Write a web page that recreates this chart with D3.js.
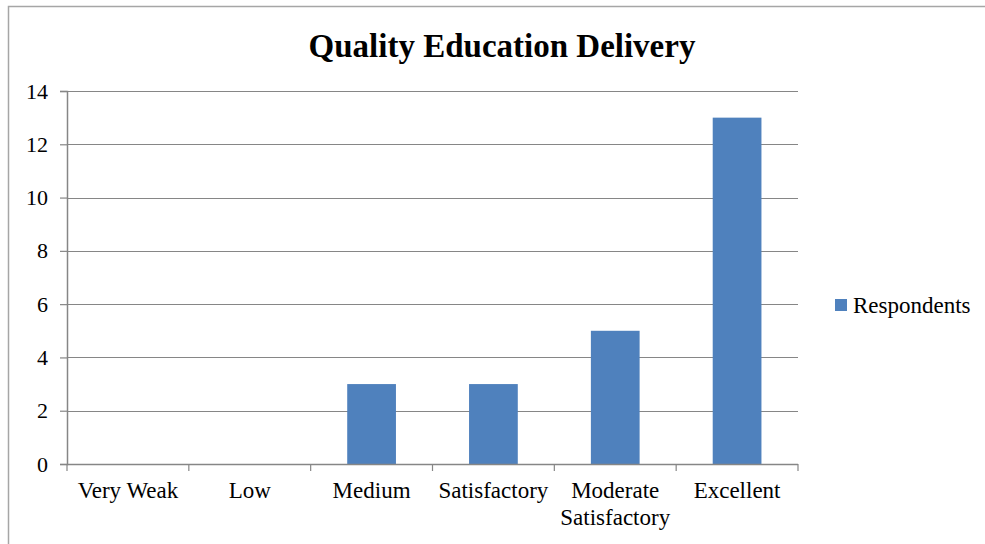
<!DOCTYPE html>
<html lang="en">
<head>
<meta charset="UTF-8">
<title>Quality Education Delivery</title>
<script src="https://d3js.org/d3.v7.min.js"></script>
<style>
  body { margin: 0; background: #fff; }
</style>
</head>
<body>
<script>
// data
var categories = ["Very Weak", "Low", "Medium", "Satisfactory", "Moderate Satisfactory", "Excellent"];
var respondents = [0, 0, 3, 3, 5, 13];
var yTicks = [0, 2, 4, 6, 8, 10, 12, 14];
var seriesName = "Respondents";

var width = 985, height = 544;
var plotL = 67, plotR = 798, plotT = 91, plotB = 464;
var barColor = "#4F81BD", gridColor = "#868686";
var serif = "'Liberation Serif', 'Times New Roman', serif";

var svg = d3.select("body").append("svg")
    .attr("width", width)
    .attr("height", height);

// outer frame (continues past right/bottom edge)
svg.append("rect")
    .attr("x", 8.5).attr("y", 6.5)
    .attr("width", 1000).attr("height", 600)
    .attr("fill", "none")
    .attr("stroke", "#a6a6a6")
    .attr("stroke-width", 1.5);

var x = d3.scaleBand().domain(categories).range([plotL, plotR]).padding(0);
var y = d3.scaleLinear().domain([0, 14]).range([plotB, plotT]);

// gridlines
svg.append("g").selectAll("line")
    .data(yTicks.filter(function (d) { return d > 0; }))
    .enter().append("line")
    .attr("x1", plotL).attr("x2", plotR)
    .attr("y1", function (d) { return Math.round(y(d)) + 0.5; })
    .attr("y2", function (d) { return Math.round(y(d)) + 0.5; })
    .attr("stroke", gridColor).attr("stroke-width", 1.2);

// bars
var barW = x.bandwidth() * 0.4;
svg.append("g").selectAll("rect")
    .data(categories)
    .enter().append("rect")
    .attr("x", function (d) { return x(d) + (x.bandwidth() - barW) / 2; })
    .attr("y", function (d, i) { return y(respondents[i]); })
    .attr("width", barW)
    .attr("height", function (d, i) { return y(0) - y(respondents[i]); })
    .attr("fill", barColor);

// y axis
var yAxis = svg.append("g")
    .attr("transform", "translate(" + plotL + ",0)")
    .call(d3.axisLeft(y).tickValues(yTicks).tickSize(7).tickPadding(12));
yAxis.select(".domain").attr("stroke", gridColor).attr("stroke-width", 1.5);
yAxis.selectAll(".tick line").attr("stroke", gridColor).attr("stroke-width", 1.2);
yAxis.selectAll("text")
    .style("font-family", serif)
    .style("font-size", "22px")
    .attr("fill", "#000");

// x axis
var xAxis = svg.append("g")
    .attr("transform", "translate(0," + plotB + ")");
xAxis.append("line")
    .attr("x1", plotL).attr("x2", plotR)
    .attr("y1", 0.5).attr("y2", 0.5)
    .attr("stroke", gridColor).attr("stroke-width", 1.5);
var bounds = categories.map(function (d) { return x(d); }).concat([plotR]);
xAxis.selectAll(".tk").data(bounds).enter().append("line")
    .attr("x1", function (d) { return d; }).attr("x2", function (d) { return d; })
    .attr("y1", 0).attr("y2", 7)
    .attr("stroke", gridColor).attr("stroke-width", 1.2);

var xl = xAxis.selectAll(".lbl").data(categories).enter().append("text")
    .attr("text-anchor", "middle")
    .style("font-family", serif)
    .style("font-size", "23px")
    .attr("x", function (d) { return x(d) + x.bandwidth() / 2; })
    .attr("y", 34);
xl.each(function (d) {
    var t = d3.select(this);
    var words = d === "Moderate Satisfactory" ? ["Moderate", "Satisfactory"] : [d];
    words.forEach(function (w, i) {
        t.append("tspan")
            .attr("x", x(d) + x.bandwidth() / 2)
            .attr("dy", i === 0 ? 0 : 27)
            .text(w);
    });
});

// title
svg.append("text")
    .attr("x", 502).attr("y", 57)
    .attr("text-anchor", "middle")
    .style("font-family", serif)
    .style("font-size", "33px")
    .style("font-weight", "bold")
    .text("Quality Education Delivery");

// legend
var lg = svg.append("g").attr("transform", "translate(835,299)");
lg.append("rect").attr("width", 12).attr("height", 12).attr("fill", barColor);
lg.append("text").attr("x", 18).attr("y", 14)
    .style("font-family", serif)
    .style("font-size", "23px")
    .text(seriesName);
</script>
</body>
</html>
